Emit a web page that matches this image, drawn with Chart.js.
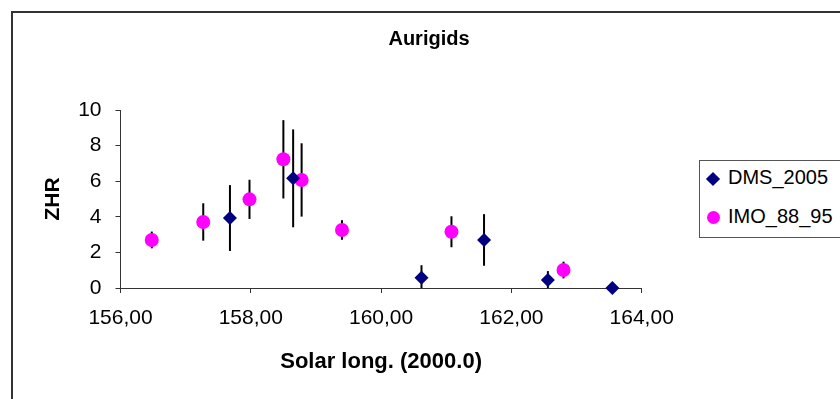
<!DOCTYPE html>
<html>
<head>
<meta charset="utf-8">
<title>Aurigids</title>
<script src="https://cdn.jsdelivr.net/npm/chart.js"></script>
<style>
  * { margin: 0; padding: 0; box-sizing: border-box; }
  html, body { width: 840px; height: 399px; overflow: hidden; background: #fff; font-family: "Liberation Sans", Arial, sans-serif; color: #000; }
  #wrap { position: relative; width: 840px; height: 399px; }
  #frame { position: absolute; left: 11px; top: 11px; width: 860px; height: 420px; border: 2px solid #333; }
  canvas { position: absolute; left: 0; top: 0; }
  #title { position: absolute; left: 0; top: 27px; width: 858px; text-align: center; font-weight: bold; font-size: 20px; line-height: 23px; }
  #legend { position: absolute; left: 699px; top: 160px; width: 200px; height: 78px; border: 1px solid #555; font-size: 20px; background: #fff; }
  #legend .item { position: absolute; left: 28px; line-height: 23px; white-space: nowrap; }
  #legend .mk { position: absolute; }
  .diamond { width: 10px; height: 10px; background: #000080; transform: rotate(45deg); }
  .dot { width: 13px; height: 13px; border-radius: 50%; background: #ff00ff; }
</style>
</head>
<body>
<div id="wrap">
  <div id="frame"></div>
  <canvas id="chart" width="840" height="399"></canvas>
  <div id="title">Aurigids</div>
  <div id="legend">
    <div class="mk diamond" style="left:8px; top:13px;"></div>
    <div class="item" style="top:5px;">DMS_2005</div>
    <div class="mk dot" style="left:7px; top:50px;"></div>
    <div class="item" style="top:44px;">IMO_88_95</div>
  </div>
</div>
<script>
  // values (solar longitude, ZHR, +/- error)
  const dmsLong = [157.68, 158.65, 160.62, 161.58, 162.56, 163.55];
  const dmsZhr  = [3.93, 6.16, 0.58, 2.70, 0.45, 0.00];
  const dmsErr  = [1.85, 2.75, 0.70, 1.45, 0.50, 0];

  const imoLong = [156.48, 157.27, 157.98, 158.50, 158.78, 159.40, 161.08, 162.80];
  const imoZhr  = [2.70, 3.71, 4.98, 7.23, 6.07, 3.26, 3.16, 1.01];
  const imoErr  = [0.47, 1.05, 1.10, 2.20, 2.06, 0.55, 0.87, 0.47];

  const xTicks = [156, 158, 160, 162, 164];
  const yTicks = [0, 2, 4, 6, 8, 10];

  const pts = (xs, ys) => xs.map((v, i) => ({ x: v, y: ys[i] }));

  // vertical error bars, no caps, drawn under the markers
  const errorBars = {
    id: 'errorBars',
    beforeDatasetsDraw(chart) {
      const { ctx, scales: { x, y } } = chart;
      ctx.save();
      ctx.strokeStyle = '#000';
      ctx.lineWidth = 2;
      chart.data.datasets.forEach(ds => {
        ds.data.forEach((p, i) => {
          const e = ds.errors[i];
          if (!e) return;
          const px = x.getPixelForValue(p.x);
          ctx.beginPath();
          ctx.moveTo(px, y.getPixelForValue(Math.max(p.y - e, 0)));
          ctx.lineTo(px, y.getPixelForValue(p.y + e));
          ctx.stroke();
        });
      });
      ctx.restore();
    }
  };

  const axisColor = '#333';
  const tickFont = { family: 'Liberation Sans', size: 21 };

  new Chart(document.getElementById('chart'), {
    type: 'scatter',
    data: {
      datasets: [
        { label: 'DMS_2005', data: pts(dmsLong, dmsZhr), errors: dmsErr,
          pointStyle: 'rectRot', pointRadius: 7, backgroundColor: '#000080', borderWidth: 0, clip: false },
        { label: 'IMO_88_95', data: pts(imoLong, imoZhr), errors: imoErr,
          pointStyle: 'circle', pointRadius: 7, backgroundColor: '#ff00ff', borderWidth: 0, clip: false }
      ]
    },
    options: {
      responsive: false,
      animation: false,
      layout: { padding: { top: 110, right: 198.3, bottom: 0, left: 0 } },
      plugins: { legend: { display: false }, tooltip: { enabled: false }, title: { display: false } },
      scales: {
        x: {
          type: 'linear', min: xTicks[0], max: xTicks[xTicks.length - 1],
          afterBuildTicks: s => { s.ticks = xTicks.map(v => ({ value: v })); },
          afterFit: s => { s.height = 111; s.paddingLeft = 0; s.paddingRight = 0; },
          grid: { drawOnChartArea: false, drawTicks: true, tickLength: 5, color: axisColor },
          border: { color: axisColor },
          ticks: { color: '#000', font: tickFont, padding: 13, maxRotation: 0,
                   callback: v => v.toFixed(2).replace('.', ',') },
          title: { display: true, text: 'Solar long. (2000.0)', color: '#000',
                   font: { family: 'Liberation Sans', size: 22, weight: 'bold' }, padding: { top: 0, bottom: 24 } }
        },
        y: {
          min: yTicks[0], max: yTicks[yTicks.length - 1],
          afterBuildTicks: s => { s.ticks = yTicks.map(v => ({ value: v })); },
          afterFit: s => { s.width = 120.5; s.paddingTop = 0; s.paddingBottom = 0; },
          grid: { drawOnChartArea: false, drawTicks: true, tickLength: 5, color: axisColor },
          border: { color: axisColor },
          ticks: { color: '#000', font: tickFont, padding: 14 },
          title: { display: true, text: 'ZHR', color: '#000',
                   font: { family: 'Liberation Sans', size: 21, weight: 'bold' }, padding: { top: 41, bottom: 0 } }
        }
      }
    },
    plugins: [errorBars]
  });
</script>
</body>
</html>
